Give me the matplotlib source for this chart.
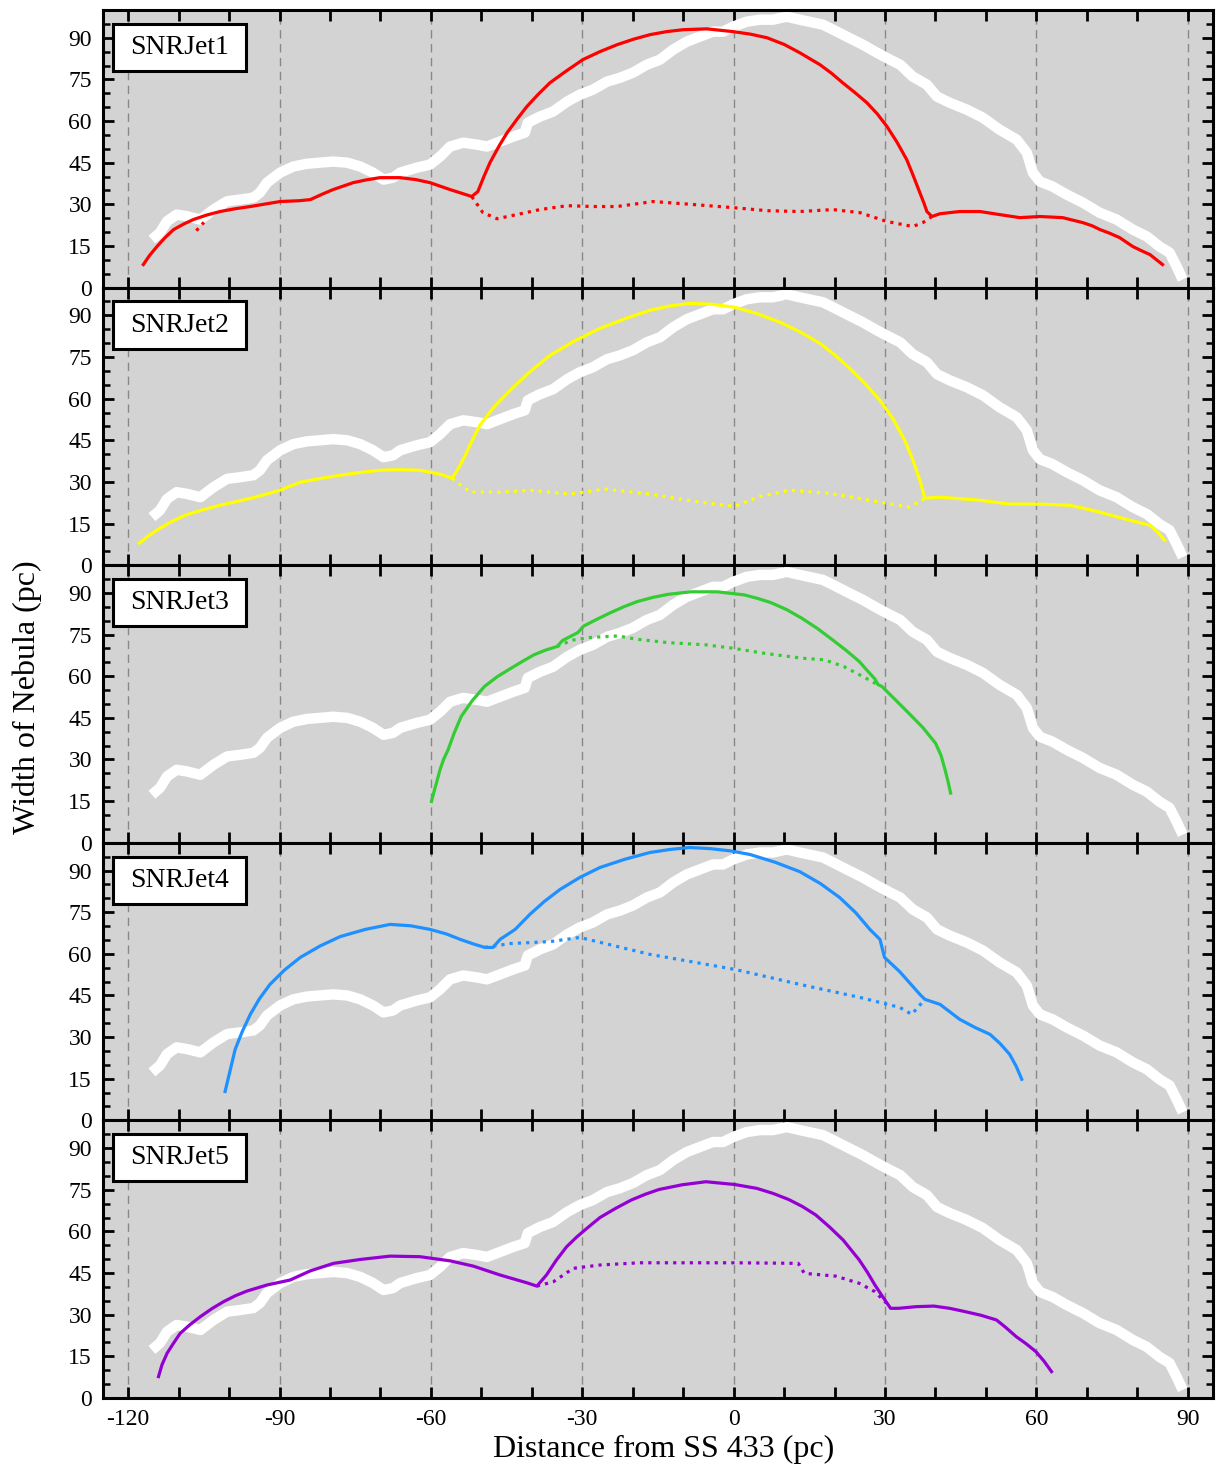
import matplotlib
matplotlib.use("Agg")
import matplotlib.pyplot as plt
from matplotlib.patches import Rectangle
from matplotlib.ticker import MultipleLocator, FixedLocator

plt.rcParams['font.family'] = ['Liberation Serif', 'DejaVu Serif']

# Observed nebula width (white band), same in every panel
white_x = [-115.3, -113.7, -112.3, -110.4, -108.4, -105.7, -103.1, -100.4, -97.8, -95.2, -93.9, -92.5,
           -89.9, -87.3, -84.6, -82.0, -79.4, -76.6, -74.0, -71.5, -69.4, -67.5, -66.1, -62.8, -60.2,
           -58.2, -56.2, -53.6, -50.9, -48.9, -46.3, -43.7, -41.4, -40.8, -38.4, -35.8, -33.0, -30.5,
           -27.9, -25.1, -22.5, -20.0, -17.2, -14.6, -12.0, -9.3, -6.7, -4.1, -2.1, -0.1, 2.6, 5.2, 7.8,
           10.5, 13.1, 17.7, 19.7, 22.4, 25.6, 28.4, 31.0, 33.0, 35.5, 38.3, 40.3, 42.8, 46.2, 49.4, 52.7,
           56.1, 58.1, 59.3, 60.7, 63.2, 66.0, 69.2, 72.5, 75.9, 79.1, 81.9, 84.4, 86.4, 87.8, 89.0]
white_y = [17.3, 19.8, 23.9, 26.3, 25.7, 24.5, 28.1, 31.1, 31.7, 32.4, 34.2, 37.8,
           41.4, 43.6, 44.6, 45.0, 45.4, 45.0, 43.6, 41.4, 38.9, 39.6, 41.4, 43.2, 44.3,
           47.2, 50.8, 52.2, 51.5, 50.8, 52.6, 54.4, 55.8, 59.4, 61.6, 63.4, 67.0, 69.5,
           71.3, 74.2, 75.6, 77.4, 80.3, 82.1, 85.7, 88.6, 90.4, 92.2, 92.2, 94.0, 95.8, 96.5, 96.5,
           97.6, 96.5, 94.7, 92.9, 90.4, 87.5, 84.6, 82.1, 80.3, 76.0, 73.1, 68.8, 66.6, 64.1, 61.2, 56.9,
           53.3, 48.6, 41.4, 38.2, 36.4, 33.5, 30.6, 27.0, 24.5, 20.9, 18.4, 14.8, 12.6, 7.6, 2.9]

# SNRJet1
jet1_x = [-117.0, -115.8, -114.3, -112.7, -111.0, -109.0, -107.1, -104.5, -101.8, -98.8, -95.8, -89.9,
          -86.0, -83.9, -81.6, -79.4, -75.4, -72.8, -70.1, -66.1, -63.0, -60.2, -56.2, -51.9,
          -50.7, -49.5, -48.3, -46.5, -44.9, -43.0, -41.0, -38.8, -36.4, -33.2, -29.9, -26.5, -23.1,
          -19.8, -16.6, -13.3, -10.0, -5.3, -0.1, 3.3, 6.6, 10.0, 13.1, 17.1, 19.4, 21.6, 24.0, 26.4,
          28.5, 30.4, 32.4, 34.3, 35.6, 36.9, 37.7, 38.3, 39.3, 40.9, 44.8, 48.8, 52.7,
          56.7, 60.7, 65.2, 69.2, 71.0, 72.6, 74.5, 76.5, 79.1, 80.8, 82.5, 85.0]
jet1_y = [8.3, 11.5, 14.8, 18.0, 20.9, 22.9, 24.5, 26.1, 27.4, 28.4, 29.2, 31.0,
          31.3, 31.7, 33.6, 35.3, 37.8, 38.8, 39.6, 39.6, 38.9, 37.8, 35.3, 32.8,
          34.6, 40.0, 45.0, 51.0, 55.8, 60.5, 65.2, 69.5, 73.8, 78.0, 82.1, 85.0, 87.5,
          89.5, 91.1, 92.2, 92.9, 93.2, 92.2, 91.3, 90.0, 87.6, 84.6, 80.3, 77.2, 73.8, 70.3, 66.6,
          62.5, 58.0, 52.3, 46.1, 40.3, 34.2, 30.5, 27.4, 25.6, 26.6, 27.4, 27.4, 26.3,
          25.2, 25.6, 25.2, 23.4, 22.3, 20.9, 19.6, 18.0, 14.8, 13.3, 11.9, 8.3]
jet1_dx = [-51.9, -49.7, -46.9, -43.0, -38.4, -33.0, -27.9, -23.1, -16.0, -10.0, -0.1, 6.6, 13.1,
           19.7, 25.0, 30.4, 35.5, 37.5, 39.3]
jet1_dy = [32.8, 27.0, 24.8, 26.3, 28.1, 29.5, 29.2, 29.2, 31.0, 30.2, 28.8, 27.7, 27.4,
           28.1, 27.0, 23.8, 22.0, 23.4, 25.6]
jet1_d2x = [-106.5, -105.0]
jet1_d2y = [20.5, 23.5]

# SNRJet2
jet2_x = [-117.8, -115.8, -113.7, -111.2, -108.7, -105.3, -101.8, -98.3, -94.8, -89.9, -85.9, -82.0,
          -78.0, -74.0, -70.1, -66.0, -62.2, -58.2, -55.8, -54.5, -53.2, -51.8, -50.3, -47.5, -44.3,
          -40.5, -36.4, -31.5, -26.5, -21.5, -16.6, -12.6, -8.7, -4.3, 0.2, 4.7, 9.2, 13.2, 17.1,
          20.0, 23.0, 26.0, 29.0, 31.6, 33.9, 35.5, 36.9, 37.9, 40.9, 48.8, 54.7, 60.7, 66.6,
          69.6, 72.6, 75.6, 78.5, 82.5, 84.0, 85.4]
jet2_y = [7.9, 10.8, 13.3, 15.9, 18.0, 19.9, 21.6, 23.0, 24.5, 27.0, 29.9, 31.2,
          32.4, 33.4, 34.2, 34.4, 34.2, 32.8, 31.3, 35.0, 39.6, 45.0, 50.4, 57.0, 63.0,
          69.5, 75.6, 80.8, 85.3, 88.8, 91.8, 93.4, 94.3, 94.0, 92.9, 90.6, 87.5, 84.0, 79.9,
          75.8, 70.9, 65.5, 59.4, 52.7, 45.0, 38.0, 30.6, 24.1, 24.5, 23.4, 22.0, 22.0, 21.6,
          20.4, 19.1, 17.6, 16.2, 14.4, 12.0, 9.0]
jet2_dx = [-55.8, -52.2, -46.3, -40.4, -32.4, -25.5, -16.6, -6.7, 0.2, 5.2, 11.1, 19.0, 26.9, 34.8, 37.9]
jet2_dy = [31.3, 26.3, 26.3, 27.0, 25.6, 27.4, 25.6, 22.7, 21.2, 24.8, 27.0, 25.9, 23.4, 20.9, 24.1]

# SNRJet3
jet3_x = [-59.9, -59.3, -58.2, -57.5, -56.6, -55.4, -54.0, -51.9, -49.4, -46.8, -44.1, -41.9, -39.6,
          -37.3, -35.0, -33.9, -30.9, -29.7, -27.0, -24.4, -21.8, -19.1, -16.0, -13.0, -8.5, -3.2,
          2.1, 4.8, 7.4, 10.5, 13.5, 16.6, 19.6, 22.3, 24.9, 26.5, 28.0, 28.6, 29.4, 32.0, 34.7,
          37.5, 40.0, 41.1, 41.9, 42.5, 43.0]
jet3_y = [14.9, 19.0, 26.3, 30.0, 33.5, 39.5, 45.5, 51.0, 56.3, 59.9, 62.9, 65.3, 67.7,
          69.4, 70.7, 72.9, 75.7, 78.1, 80.6, 82.9, 85.0, 86.9, 88.4, 89.5, 90.4, 90.4,
          89.3, 88.0, 86.5, 84.0, 80.9, 77.2, 73.1, 69.3, 65.3, 62.0, 59.0, 57.0, 56.3, 51.6, 46.7,
          41.5, 35.9, 31.5, 26.3, 22.0, 17.9]
jet3_dx = [-35.0, -32.0, -28.2, -22.9, -19.1, -13.0, -5.5, -0.2, 5.9, 13.5, 18.0, 21.8, 25.6, 28.6]
jet3_dy = [70.7, 73.0, 74.0, 74.5, 73.3, 72.1, 71.3, 70.1, 68.3, 66.5, 65.9, 63.5, 59.9, 56.9]

# SNRJet4
jet4_x = [-100.8, -99.8, -98.8, -97.4, -95.8, -94.0, -91.9, -89.0, -85.9, -82.0, -78.0, -73.0, -68.1,
          -64.0, -60.2, -57.0, -54.2, -51.5, -49.3, -47.7, -46.3, -43.3, -40.4, -37.5, -34.4, -30.5,
          -26.5, -21.5, -16.6, -12.6, -8.7, -4.7, -0.7, 3.2, 8.2, 13.1, 17.2, 21.0, 24.2, 27.0,
          29.0, 29.9, 32.9, 36.9, 37.9, 40.9, 44.8, 47.8, 50.8, 52.8, 54.7, 56.0, 57.1]
jet4_y = [10.4, 18.0, 25.6, 32.0, 38.2, 43.8, 49.0, 54.2, 58.7, 62.8, 66.2, 68.8, 70.6,
          70.1, 68.8, 67.2, 65.2, 63.5, 62.3, 62.3, 65.2, 68.8, 74.2, 78.9, 83.2, 87.5,
          91.1, 94.1, 96.5, 97.6, 98.3, 97.9, 97.1, 95.8, 93.0, 89.6, 85.3, 80.3, 74.8, 68.8,
          65.2, 58.7, 53.6, 45.4, 43.6, 41.8, 36.4, 33.5, 31.0, 27.7, 23.8, 19.5, 14.8]
jet4_dx = [-49.3, -44.3, -36.4, -30.5, -16.6, 0.2, 13.1, 25.0, 32.9, 35.3, 37.9]
jet4_dy = [62.3, 63.7, 64.4, 65.9, 59.8, 54.4, 49.0, 44.3, 40.7, 38.2, 43.6]

# SNRJet5
jet5_x = [-114.0, -113.3, -112.3, -111.0, -109.7, -107.7, -105.7, -103.4, -101.1, -98.8, -96.5, -92.5,
          -87.9, -83.9, -79.3, -74.0, -68.1, -62.2, -56.2, -51.6, -46.3, -41.0, -39.0, -37.1, -35.2,
          -33.1, -31.1, -29.1, -26.5, -23.4, -20.3, -17.5, -14.8, -10.2, -5.5, 0.2, 4.6, 7.8, 10.9,
          13.6, 16.3, 19.0, 21.7, 23.3, 24.9, 26.5, 28.0, 29.6, 31.1, 32.7, 36.2, 39.7, 42.8, 45.9,
          49.0, 52.1, 54.0, 56.0, 58.0, 59.9, 61.5, 63.0]
jet5_y = [7.7, 12.0, 16.1, 19.8, 23.3, 26.5, 29.3, 32.2, 34.7, 36.8, 38.5, 40.7,
          42.5, 45.8, 48.5, 49.9, 51.1, 50.9, 49.4, 47.5, 44.3, 41.5, 40.3, 44.3, 49.5,
          54.5, 58.0, 61.1, 65.0, 68.3, 71.3, 73.4, 75.1, 76.8, 77.9, 76.9, 75.5, 73.7, 71.5,
          69.0, 65.9, 61.6, 56.9, 53.3, 49.7, 45.3, 40.7, 36.3, 32.3, 32.3, 32.9, 33.1, 32.3, 31.1,
          29.8, 28.1, 25.3, 22.1, 19.5, 16.7, 13.3, 9.5]
jet5_dx = [-39.0, -35.7, -31.8, -26.5, -18.7, 0.2, 12.8, 14.0, 20.2, 24.9, 28.0, 30.3]
jet5_dy = [40.3, 41.9, 46.7, 47.9, 48.7, 48.7, 48.5, 44.9, 43.9, 41.3, 38.3, 34.1]

names = ['SNRJet1', 'SNRJet2', 'SNRJet3', 'SNRJet4', 'SNRJet5']
colors = ['#ff0000', '#ffff00', '#33cc33', '#1e90ff', '#9400d3']
solids = [(jet1_x, jet1_y), (jet2_x, jet2_y), (jet3_x, jet3_y), (jet4_x, jet4_y), (jet5_x, jet5_y)]
dotteds = [[(jet1_dx, jet1_dy), (jet1_d2x, jet1_d2y)], [(jet2_dx, jet2_dy)], [(jet3_dx, jet3_dy)],
           [(jet4_dx, jet4_dy)], [(jet5_dx, jet5_dy)]]

xticks_major = list(range(-120, 91, 10))
xtick_labels = [str(v) if v % 30 == 0 else '' for v in xticks_major]
grid_x = [-120, -90, -60, -30, 0, 30, 60, 90]
yticks = [0, 15, 30, 45, 60, 75, 90]

fig, axes = plt.subplots(5, 1, figsize=(12.16, 14.68), dpi=100, sharex=True)
fig.subplots_adjust(left=0.0847, right=0.9975, bottom=0.0477, top=0.9932, hspace=0)

for i, ax in enumerate(axes):
    ax.set_facecolor('#d3d3d3')
    for gx in grid_x:
        ax.axvline(gx, color='#888888', lw=1.0, ls=(0, (6, 4)), zorder=1)
    ax.plot(white_x, white_y, color='white', lw=7.5, solid_capstyle='butt',
            solid_joinstyle='round', zorder=2)
    sx, sy = solids[i]
    ax.plot(sx, sy, color=colors[i], lw=2.3, zorder=4, solid_joinstyle='round')
    for dx, dy in dotteds[i]:
        ax.plot(dx, dy, color=colors[i], lw=2.3, ls=(0, (1, 1.6)), zorder=3)
    ax.set_xlim(-125, 95)
    ax.set_ylim(0, 100)
    ax.set_yticks(yticks)
    ax.yaxis.set_minor_locator(MultipleLocator(5))
    ax.xaxis.set_major_locator(FixedLocator(xticks_major))
    ax.tick_params(axis='both', which='both', direction='in', top=True, right=True)
    ax.tick_params(axis='both', which='major', length=8, width=2, labelsize=17, pad=8)
    ax.tick_params(axis='y', which='minor', length=5, width=1.8)
    ax.tick_params(axis='y', which='both', labelright=False)
    for sp in ax.spines.values():
        sp.set_linewidth(2.2)
    ax.add_patch(Rectangle((0.009, 0.78), 0.12, 0.17, transform=ax.transAxes,
                           facecolor='white', edgecolor='black', lw=2.2, zorder=6))
    ax.text(0.069, 0.865, names[i], transform=ax.transAxes, ha='center', va='center',
            fontsize=20, zorder=7)

axes[-1].set_xticklabels(xtick_labels)
for ax in axes[:-1]:
    ax.tick_params(axis='x', labelbottom=False)

fig.text(0.0222, 0.525, 'Width of Nebula (pc)', rotation=90, ha='center', va='center', fontsize=23)
fig.text(0.5456, 0.0125, 'Distance from SS 433 (pc)', ha='center', va='center', fontsize=23)

fig.savefig('out.png', dpi=100)
